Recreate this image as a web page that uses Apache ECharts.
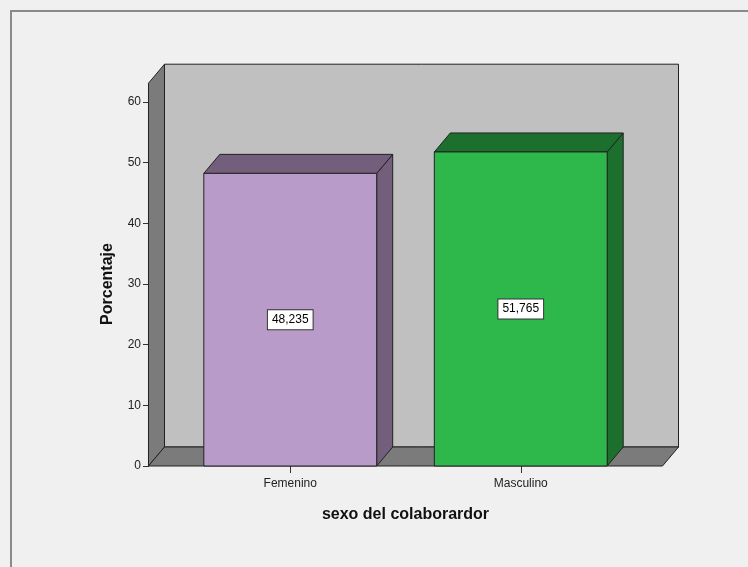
<!DOCTYPE html>
<html>
<head>
<meta charset="utf-8">
<script src="https://cdn.jsdelivr.net/npm/echarts@6/dist/echarts.min.js"></script>
<style>
  html, body { margin: 0; padding: 0; background: #f0f0f0; }
  #main { width: 748px; height: 567px; }
</style>
</head>
<body>
<div id="main"></div>
<script>
// datos
var categorias = ['Femenino', 'Masculino'];
var porcentajes = [48.235, 51.765];
var ticksY = [0, 10, 20, 30, 40, 50, 60];

var colFrente = ['#b89bc9', '#2eb84c'];
var colSombra = ['#735f7c', '#1d6f2e'];

// profundidad 3D en pixeles
var DX = 16, DY = -19;
var techo = 63.1;      // altura de las paredes
var extra = 0.615;     // cuanto sobresale el piso fuera de las categorias
var anchoBarra = 0.75;
var linea = '#222';

var myChart = echarts.init(document.getElementById('main'), null, {renderer: 'canvas'});

function fmt(v) {
    return v.toFixed(3).replace('.', ',');
}

function poly(pts, fill) {
    return {
        type: 'polygon',
        shape: {points: pts},
        style: {fill: fill, stroke: linea, lineWidth: 1}
    };
}

function paredes(params, api) {
    var band = api.size([1, 0])[0];
    var o = api.coord([0, 0]);
    var x0 = o[0] - extra * band;
    var x1 = api.coord([categorias.length - 1, 0])[0] + extra * band;
    var y0 = o[1];
    var yT = api.coord([0, techo])[1];
    return {
        type: 'group',
        children: [
            // fondo
            poly([[x0 + DX, yT + DY], [x1 + DX, yT + DY], [x1 + DX, y0 + DY], [x0 + DX, y0 + DY]], '#c0c0c0'),
            // pared izquierda
            poly([[x0, yT], [x0 + DX, yT + DY], [x0 + DX, y0 + DY], [x0, y0]], '#7b7b7b'),
            // piso
            poly([[x0, y0], [x0 + DX, y0 + DY], [x1 + DX, y0 + DY], [x1, y0]], '#7b7b7b')
        ]
    };
}

function barras(params, api) {
    var i = api.value(0);
    var v = api.value(1);
    var band = api.size([1, 0])[0];
    var w = band * anchoBarra;
    var base = api.coord([i, 0]);
    var top = api.coord([i, v]);
    var xl = base[0] - w / 2, xr = base[0] + w / 2;
    var yb = base[1], yt = top[1];
    var mid = api.coord([i, v / 2])[1];
    return {
        type: 'group',
        children: [
            poly([[xr, yb], [xr + DX, yb + DY], [xr + DX, yt + DY], [xr, yt]], colSombra[i]),
            poly([[xl, yt], [xl + DX, yt + DY], [xr + DX, yt + DY], [xr, yt]], colSombra[i]),
            poly([[xl, yt], [xr, yt], [xr, yb], [xl, yb]], colFrente[i]),
            {
                type: 'text',
                x: base[0],
                y: mid,
                style: {
                    text: fmt(v),
                    align: 'center',
                    verticalAlign: 'middle',
                    fill: '#000',
                    font: '12px Arial, "Liberation Sans"',
                    backgroundColor: '#fff',
                    borderColor: '#333',
                    borderWidth: 1,
                    padding: [4, 4, 3, 4]
                }
            }
        ]
    };
}

var option = {
    backgroundColor: '#f0f0f0',
    animation: false,
    textStyle: {fontFamily: 'Arial, "Liberation Sans", sans-serif'},
    graphic: [{
        type: 'rect',
        shape: {x: 11, y: 11, width: 800, height: 600},
        style: {fill: 'none', stroke: '#8a8a8a', lineWidth: 2},
        z: 100
    }],
    grid: {left: 175, right: 112, top: 102, bottom: 101},
    xAxis: {
        type: 'category',
        data: categorias,
        name: 'sexo del colaborardor',
        nameLocation: 'middle',
        nameGap: 41,
        nameTextStyle: {fontSize: 16, fontWeight: 'bold', color: '#111'},
        axisLine: {show: false},
        axisTick: {show: true, alignWithLabel: true, length: 7, lineStyle: {color: '#333'}},
        axisLabel: {fontSize: 12, color: '#222', margin: 12},
        splitLine: {show: false}
    },
    yAxis: {
        type: 'value',
        min: ticksY[0],
        max: ticksY[ticksY.length - 1],
        interval: ticksY[1] - ticksY[0],
        offset: 26,
        name: 'Porcentaje',
        nameLocation: 'middle',
        nameRotate: 90,
        nameGap: 33,
        nameTextStyle: {fontSize: 16, fontWeight: 'bold', color: '#111'},
        axisLine: {show: false},
        axisTick: {show: true, length: 6, lineStyle: {color: '#333'}},
        axisLabel: {fontSize: 12, color: '#222', margin: 8},
        splitLine: {show: false}
    },
    series: [{
        type: 'custom',
        renderItem: paredes,
        data: [[0, 0]],
        clip: false,
        silent: true,
        z: 1
    }, {
        type: 'custom',
        renderItem: barras,
        data: porcentajes.map(function (v, i) { return [i, v]; }),
        clip: false,
        z: 2
    }]
};
myChart.setOption(option);
</script>
</body>
</html>
